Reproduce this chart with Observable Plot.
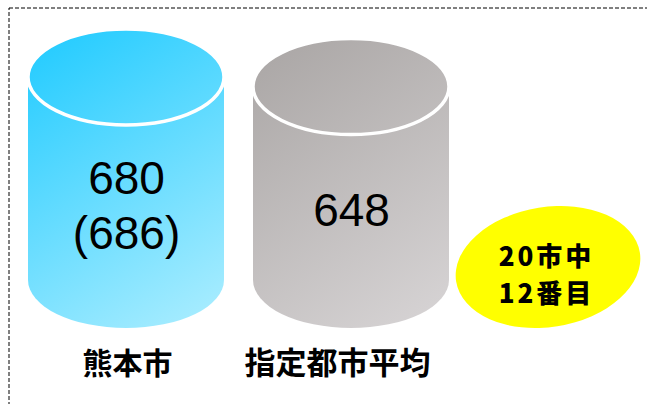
<!DOCTYPE html>
<html>
<head>
<meta charset="utf-8">
<script src="https://cdn.jsdelivr.net/npm/d3@7"></script>
<script src="https://cdn.jsdelivr.net/npm/@observablehq/plot@0.6"></script>
<style>
  html, body { margin: 0; padding: 0; background: #fff; }
</style>
</head>
<body>
<div id="chart"></div>
<script>
// ---- data ----
const categories = ["熊本市", "指定都市平均"];
const values = [680, 648];
const valueLabels = ["680\n(686)", "648"];
const rankLines = ["20市中", "12番目"];

// ---- table built from the arrays ----
const data = categories.map((c, i) => ({category: c, value: values[i], label: valueLabels[i]}));

const W = 647, H = 404;
const palette = [["#1ECAFF", "#AEEEFF"], ["#A9A5A4", "#D8D5D6"]];
const RY = 48;
const cjk = "'Noto Sans CJK JP', sans-serif";

const plot = Plot.plot({
  width: W,
  height: H,
  margin: 0,
  style: {background: "#fff"},
  x: {type: "band", domain: categories, range: [28, 449], paddingInner: 0.129, paddingOuter: 0, axis: null},
  y: {domain: [0, 680], range: [280, 77], axis: null},
  marks: [
    Plot.frame({stroke: "#000", strokeWidth: 1, strokeDasharray: "4,2", insetLeft: 8.5, insetTop: 7.5, insetRight: -20, insetBottom: -20}),
    Plot.text(data, {
      x: "category", y: d => d.value / 2, text: "label", dy: 25,
      fontSize: 46, lineHeight: 1.18, fill: "#000",
      fontFamily: "'Liberation Sans', Arial, 'Noto Sans CJK JP', sans-serif"
    }),
    Plot.text(data, {
      filter: (d, i) => i === 0,
      x: "category", text: "category", frameAnchor: "bottom", dy: -31, dx: 1,
      fontSize: 30, fontWeight: "bold", fill: "#000", fontFamily: cjk
    }),
    Plot.text(data, {
      filter: (d, i) => i === 1,
      x: "category", text: "category", frameAnchor: "bottom", dy: -31, dx: -14,
      fontSize: 31, fontWeight: "bold", fill: "#000", fontFamily: cjk
    }),
    Plot.text([rankLines.join("\n")], {
      text: d => d, frameAnchor: "right", textAnchor: "middle", dx: -101, dy: 70,
      fontSize: 26, fontWeight: 900, lineHeight: 1.44, fill: "#000", fontFamily: cjk
    })
  ]
});

document.getElementById("chart").appendChild(plot);

// letter spacing for the badge text (last text group)
const textGroups = plot.querySelectorAll("g[aria-label='text']");
textGroups[textGroups.length - 1].setAttribute("letter-spacing", "3");

// ---- cylinders and badge, drawn from Plot's own scales ----
const xs = plot.scale("x");
const ys = plot.scale("y");
const svg = d3.select(plot);
const bw = xs.bandwidth;
const defs = svg.insert("defs", ":first-child");
const layer = svg.insert("g", "g[aria-label='text']");

data.forEach((d, i) => {
  const xl = xs.apply(d.category);
  const xr = xl + bw;
  const cx = xl + bw / 2;
  const rx = bw / 2;
  const yt = ys.apply(d.value);
  const yb = ys.apply(0);
  const id = "cyl-grad-" + i;
  const g = defs.append("linearGradient")
    .attr("id", id)
    .attr("gradientUnits", "userSpaceOnUse")
    .attr("x1", xl).attr("y1", yt - RY)
    .attr("x2", xr).attr("y2", yb + RY);
  g.append("stop").attr("offset", "0%").attr("stop-color", palette[i][0]);
  g.append("stop").attr("offset", "100%").attr("stop-color", palette[i][1]);

  layer.append("path")
    .attr("d", `M${xl},${yt} L${xl},${yb} A${rx},${RY} 0 0 0 ${xr},${yb} L${xr},${yt} Z`)
    .attr("fill", `url(#${id})`);
  layer.append("ellipse")
    .attr("cx", cx).attr("cy", yt).attr("rx", rx).attr("ry", RY)
    .attr("fill", `url(#${id})`)
    .attr("stroke", "#fff").attr("stroke-width", 3.5);
});

// yellow badge behind the rank text
const bcx = W - 99, bcy = H / 2 + 65;
layer.append("ellipse")
  .attr("cx", bcx).attr("cy", bcy).attr("rx", 93).attr("ry", 60)
  .attr("transform", `rotate(-9 ${bcx} ${bcy})`)
  .attr("fill", "#FFFF00");
</script>
</body>
</html>
